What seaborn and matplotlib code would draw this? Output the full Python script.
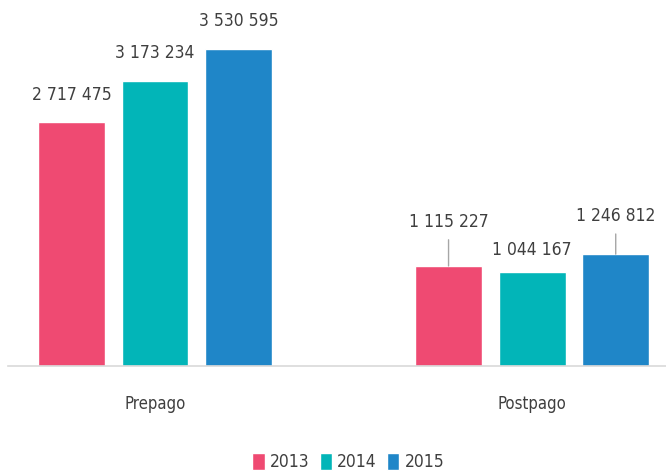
import matplotlib
matplotlib.use("Agg")
import matplotlib.pyplot as plt
import pandas as pd
import seaborn as sns

categorias = ["Prepago", "Postpago"]
anios = ["2013", "2014", "2015"]
prepago = [2717475, 3173234, 3530595]
postpago = [1115227, 1044167, 1246812]
colores = ["#EF4A72", "#02B5B8", "#1F86C8"]
# separación (px) entre el tope de la barra y el centro de la etiqueta
offsets = {"Prepago": [27, 28, 28], "Postpago": [44, 22, 38]}
con_linea = {"Prepago": [False, False, False], "Postpago": [True, False, True]}

df = pd.DataFrame({
    "tipo": [c for c in categorias for _ in anios],
    "anio": anios * 2,
    "lineas": prepago + postpago,
})

sns.set_theme(style="white")
plt.rcParams["font.family"] = ["DejaVu Sans"]
plt.rcParams["font.stretch"] = "condensed"
texto = "#3f3f3f"

fig = plt.figure(figsize=(6.66, 4.73), dpi=100)
ax = fig.add_axes([8 / 666, (473 - 366) / 473, 1 - 8 / 666, 366 / 473])
sns.barplot(df, x="tipo", y="lineas", hue="anio", palette=colores,
            width=0.665, gap=0.2, saturation=1, ax=ax, legend=True)

ax.set_xlim(-0.39, 1.355)
ax.set_ylim(0, 4.08e6)
ax.set(xlabel="", ylabel="", yticks=[])
for s in ["top", "right", "left"]:
    ax.spines[s].set_visible(False)
ax.spines["bottom"].set_color("#d9d9d9")
ax.spines["bottom"].set_linewidth(1.2)
ax.tick_params(axis="x", length=0, pad=21, labelsize=12, labelcolor=texto)

for i, cont in enumerate(ax.containers):
    for j, bar in enumerate(cont):
        cat = categorias[j]
        off = offsets[cat][i]
        x = bar.get_x() + bar.get_width() / 2
        h = bar.get_height()
        props = None
        if con_linea[cat][i]:
            props = dict(arrowstyle="-", color="#a6a6a6", lw=1, shrinkA=4, shrinkB=0)
        ax.annotate(f"{int(h):,}".replace(",", " "), xy=(x, h), xytext=(0, off),
                    textcoords="offset pixels", ha="center", va="center",
                    fontsize=12.5, color=texto, arrowprops=props)

handles, labels = ax.get_legend_handles_labels()
ax.get_legend().remove()
fig.legend(handles, labels, loc="center", bbox_to_anchor=(0.523, 1 - 462 / 473),
           ncol=3, frameon=False, fontsize=12.5, labelcolor=texto,
           handlelength=0.7, handleheight=1.1, handletextpad=0.3, columnspacing=0.6)

fig.savefig("out.png", dpi=100)
